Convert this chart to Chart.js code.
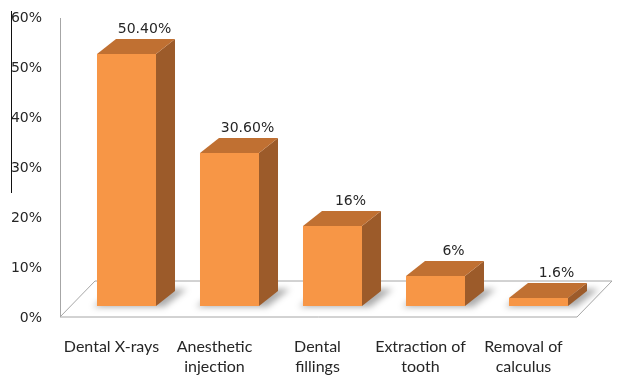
<!DOCTYPE html>
<html>
<head>
<meta charset="utf-8">
<script src="https://cdn.jsdelivr.net/npm/chart.js@4"></script>
<style>
  html, body { margin: 0; padding: 0; background: #fff; }
  #wrap { width: 622px; height: 375px; }
</style>
</head>
<body>
<div id="wrap"><canvas id="procChart" width="622" height="375"></canvas></div>
<script>
const categories = [
    ['Dental X-rays'],
    ['Anesthetic', 'injection'],
    ['Dental', 'fillings'],
    ['Extraction of', 'tooth'],
    ['Removal of', 'calculus']
];
const percentages = [50.4, 30.6, 16, 6, 1.6];
const valueLabels = ['50.40%', '30.60%', '16%', '6%', '1.6%'];
const yTicks = [0, 10, 20, 30, 40, 50, 60];

// depth of the 3D extrusion
const DEPTH_X = 19;
const DEPTH_Y = 15;

const poly = (ctx, pts, fill, stroke) => {
    ctx.beginPath();
    ctx.moveTo(pts[0][0], pts[0][1]);
    for (let i = 1; i < pts.length; i++) ctx.lineTo(pts[i][0], pts[i][1]);
    ctx.closePath();
    if (fill) { ctx.fillStyle = fill; ctx.fill(); }
    if (stroke) { ctx.strokeStyle = stroke; ctx.stroke(); }
};

// floor, axis line and bar shadows
const floorPlugin = {
    id: 'floor3d',
    beforeDatasetsDraw(chart) {
        const ctx = chart.ctx;
        const area = chart.chartArea;
        const base = chart.scales.y.getPixelForValue(0);
        const fl = area.left - 15, fr = area.right - 13;
        const front = base + 11, back = base - 25;
        ctx.save();
        ctx.lineWidth = 1;
        poly(ctx, [[fl, front], [fr, front], [fr + 35, back], [fl + 35, back]], '#ffffff', '#a6a6a6');

        // left axis line
        ctx.beginPath();
        ctx.moveTo(fl + 0.5, chart.scales.y.getPixelForValue(60) + 12);
        ctx.lineTo(fl + 0.5, front);
        ctx.strokeStyle = '#a6a6a6';
        ctx.stroke();

        // stray rule at the far left
        ctx.beginPath();
        ctx.moveTo(11.5, 11);
        ctx.lineTo(11.5, 193);
        ctx.strokeStyle = '#111';
        ctx.stroke();

        // soft shadows cast on the floor
        ctx.filter = 'blur(3px)';
        chart.getDatasetMeta(0).data.forEach(bar => {
            const l = bar.x - bar.width / 2, r = bar.x + bar.width / 2;
            poly(ctx, [[l - 4, bar.base + 1], [r + 8, bar.base + 1], [r + DEPTH_X + 12, bar.base - DEPTH_Y - 2], [l + DEPTH_X, bar.base - DEPTH_Y - 2]], 'rgba(0,0,0,0.32)');
        });
        ctx.restore();
    },
    afterDatasetsDraw(chart) {
        const ctx = chart.ctx;
        ctx.save();
        chart.getDatasetMeta(0).data.forEach((bar, i) => {
            const l = bar.x - bar.width / 2, r = bar.x + bar.width / 2;
            const t = bar.y, b = bar.base;
            // side face
            poly(ctx, [[r, t], [r + DEPTH_X, t - DEPTH_Y], [r + DEPTH_X, b - DEPTH_Y], [r, b]], '#9c5b2a');
            // top face
            poly(ctx, [[l, t], [r, t], [r + DEPTH_X, t - DEPTH_Y], [l + DEPTH_X, t - DEPTH_Y]], '#c07032');

            ctx.font = '14px "DejaVu Sans"';
            ctx.fillStyle = '#262626';
            ctx.textAlign = 'center';
            ctx.textBaseline = 'middle';
            ctx.fillText(valueLabels[i], bar.x + 18, t - 25);
        });
        ctx.restore();
    }
};

new Chart(document.getElementById('procChart'), {
    type: 'bar',
    data: {
        labels: categories,
        datasets: [{
            data: percentages,
            backgroundColor: '#f79646',
            borderWidth: 0,
            barPercentage: 0.573,
            categoryPercentage: 1
        }]
    },
    options: {
        responsive: false,
        animation: false,
        events: [],
        layout: { padding: { top: 6, right: 32, left: 0, bottom: 0 } },
        plugins: {
            legend: { display: false },
            tooltip: { enabled: false }
        },
        scales: {
            y: {
                min: 0,
                max: 60,
                afterBuildTicks: scale => { scale.ticks = yTicks.map(v => ({ value: v })); },
                afterFit: scale => {
                    scale.width = 75;
                    scale.paddingTop = 0;
                    scale.paddingBottom = 0;
                },
                grid: { display: false, drawTicks: false },
                border: { display: false },
                ticks: {
                    padding: 33,
                    labelOffset: 12,
                    color: '#262626',
                    font: { family: 'DejaVu Sans', size: 14 },
                    callback: v => v + '%'
                }
            },
            x: {
                afterFit: scale => {
                    scale.height = 69;
                    scale.paddingLeft = 0;
                    scale.paddingRight = 0;
                },
                grid: { display: false, drawTicks: false },
                border: { display: false },
                ticks: {
                    padding: 30,
                    labelOffset: -15,
                    maxRotation: 0,
                    autoSkip: false,
                    color: '#262626',
                    font: { family: 'Lato', size: 16, lineHeight: 1.3 }
                }
            }
        }
    },
    plugins: [floorPlugin]
});
</script>
</body>
</html>
